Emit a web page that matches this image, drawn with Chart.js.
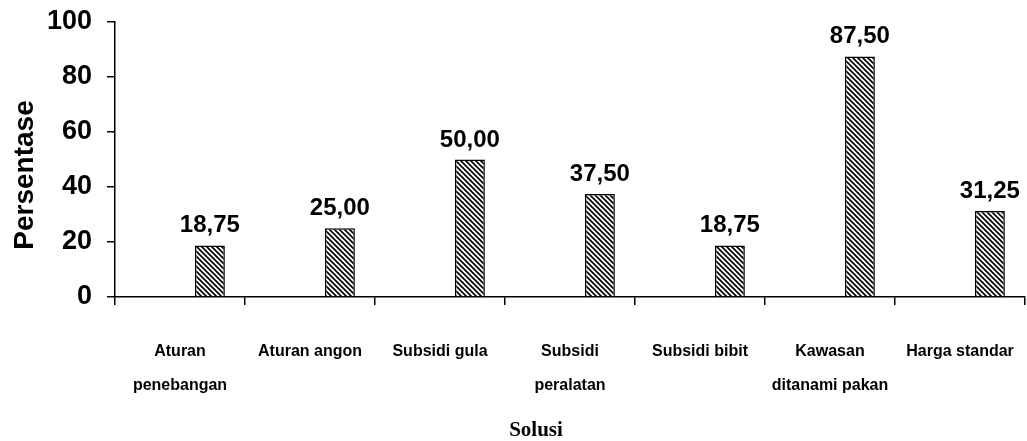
<!DOCTYPE html>
<html>
<head>
<meta charset="utf-8">
<script src="https://cdn.jsdelivr.net/npm/chart.js@4/dist/chart.umd.min.js"></script>
<style>
  body { margin: 0; background: #fff; }
  #wrap { width: 1027px; height: 441px; }
</style>
</head>
<body>
<div id="wrap"><canvas id="chart" width="1027" height="441"></canvas></div>
<script>
// Solusi chart: one hatched series, shifted right inside each category like the Excel original

const categories = [
  ['Aturan', 'penebangan'],
  'Aturan angon',
  'Subsidi gula',
  ['Subsidi', 'peralatan'],
  'Subsidi bibit',
  ['Kawasan', 'ditanami pakan'],
  'Harga standar'
]
const persentase  = [18.75, 25.00, 50.00, 37.50, 18.75, 87.50, 31.25]
const emptySeries = [null, null, null, null, null, null, null]   // blank slot on the left of each bar
const yTicks      = [0, 20, 40, 60, 80, 100]

const sans  = '"Liberation Sans", Arial, sans-serif'
const serif = '"Liberation Serif", "Times New Roman", serif'

function hatch()
{
  const p = 5
  const c = document.createElement('canvas')
  c.width = c.height = p
  const g = c.getContext('2d')
  g.fillStyle = '#fff'
  g.fillRect(0, 0, p, p)
  g.strokeStyle = '#000'
  g.lineWidth   = 1.7
  g.beginPath()
  for( let k = -1; k <= 1; k++ )
  {
    g.moveTo(-1, k * p - 1)
    g.lineTo(p + 1, p + k * p + 1)
  }
  g.stroke()
  return g.createPattern(c, 'repeat')
}

// value labels above the bars + the two axis titles
const labelsPlugin = {
  id: 'labels',
  afterDatasetsDraw(chart)
  {
    const ctx  = chart.ctx
    const meta = chart.getDatasetMeta(1)
    ctx.save()
    ctx.fillStyle    = '#000'
    ctx.font         = 'bold 24px ' + sans
    ctx.textAlign    = 'center'
    ctx.textBaseline = 'alphabetic'
    meta.data.forEach((bar, i) => {
      ctx.fillText(persentase[i].toFixed(2).replace('.', ','), bar.x, bar.y - 13)
    })

    ctx.font = 'bold 21px ' + serif
    ctx.fillText('Solusi', 536, 436)

    ctx.translate(25, 175)
    ctx.rotate(-Math.PI / 2)
    ctx.font         = 'bold 28px ' + sans
    ctx.textBaseline = 'middle'
    ctx.fillText('Persentase', 0, 0)
    ctx.restore()
  }
}

new Chart(document.getElementById('chart'), {
  type: 'bar',
  data: {
    labels: categories,
    datasets: [
      {
        data: emptySeries
      },
      {
        data:            persentase,
        backgroundColor: hatch(),
        borderColor:     '#000',
        borderWidth:     1.5
      }
    ]
  },
  options: {
    responsive: false,
    animation:  false,
    categoryPercentage: 0.92,
    barPercentage:      0.5,
    layout: { padding: { top: 22, right: 2, left: 0, bottom: 0 } },
    plugins: {
      legend:  { display: false },
      tooltip: { enabled: false }
    },
    scales: {
      x: {
        afterFit: scale => { scale.height = 144; scale.paddingLeft = 0; scale.paddingRight = 0 },
        grid:   { drawOnChartArea: false, drawTicks: true, tickLength: 8, color: '#000', lineWidth: 1.5 },
        border: { display: true, color: '#000', width: 1.5 },
        ticks: {
          color:       '#000',
          padding:     29,
          maxRotation: 0,
          autoSkip:    false,
          font:        { family: sans, size: 16, weight: 'bold', lineHeight: 2.15 }
        }
      },
      y: {
        min: 0,
        max: 100,
        afterFit: scale => { scale.width = 115; scale.paddingTop = 0; scale.paddingBottom = 0 },
        afterBuildTicks: scale => { scale.ticks = yTicks.map(v => ({ value: v })) },
        grid:   { drawOnChartArea: false, drawTicks: true, tickLength: 8, color: '#000', lineWidth: 1.5 },
        border: { display: true, color: '#000', width: 1.5 },
        ticks: {
          color:   '#000',
          padding: 15,
          font:    { family: sans, size: 27, weight: 'bold' }
        }
      }
    }
  },
  plugins: [labelsPlugin]
})
</script>
</body>
</html>
